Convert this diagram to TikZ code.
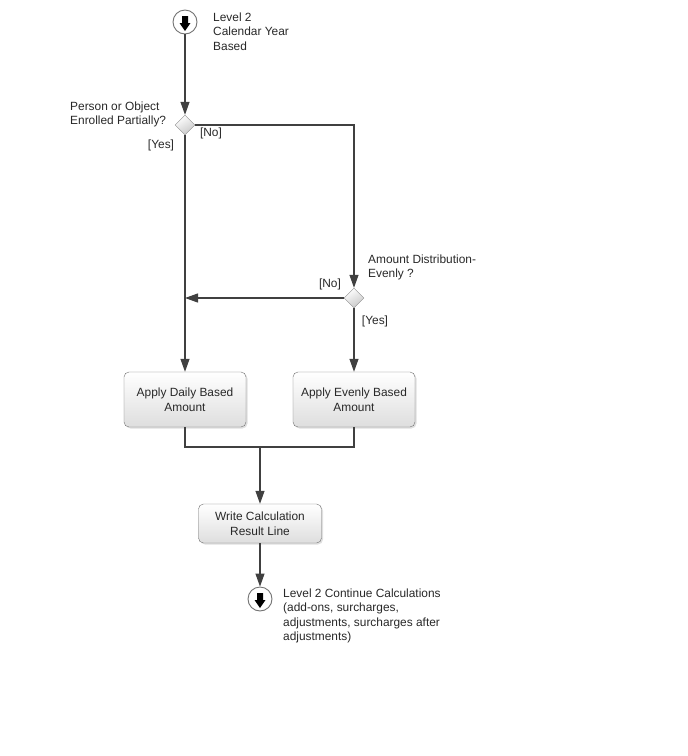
\documentclass[tikz,border=0pt]{standalone}
\usepackage{fontspec}
\setmainfont{Liberation Sans}
\usetikzlibrary{shapes.geometric, arrows.meta, shadows}
\definecolor{linegray}{RGB}{64,64,64}
\definecolor{boxgray}{RGB}{112,112,112}
\definecolor{textgray}{RGB}{40,40,40}
\tikzset{
	action/.style={
		draw=boxgray,
		rounded corners=5pt,
		top color=white,
		bottom color=black!13,
		drop shadow={opacity=0.25, shadow xshift=1.5pt, shadow yshift=-1.5pt},
		align=center,
		text=textgray
	},
	decision/.style={
		diamond,
		draw=black!45,
		inner sep=0pt,
		minimum width=20pt,
		minimum height=20pt,
		top color=white,
		bottom color=black!22,
		shading angle=30
	},
	flowend/.style={
		circle,
		draw=black!55,
		line width=0.9pt,
		fill=white,
		inner sep=0pt,
		minimum size=24pt
	},
	note/.style={
		inner sep=0pt,
		text=textgray
	}
}
% black down arrow drawn inside a start/end circle
\newcommand{\downicon}[1]{%
	\fill[black] ([shift={(-3,-6)}]#1.center) -- ([shift={(3,-6)}]#1.center)
		-- ([shift={(3,1)}]#1.center) -- ([shift={(5.5,1)}]#1.center)
		-- ([shift={(0,9)}]#1.center) -- ([shift={(-5.5,1)}]#1.center)
		-- ([shift={(-3,1)}]#1.center) -- cycle;}

\begin{document}
\begin{tikzpicture}[x=1pt, y=-1pt, font=\fontsize{11.9}{14.5}\selectfont]
	\tikzset{edge/.style={-{Triangle[length=13pt,width=9pt]}, draw=linegray, line width=1.2pt}}
	\tikzset{wire/.style={draw=linegray, line width=1.2pt}}
	\useasboundingbox (0,0) rectangle (688,756);
	
	\node(start) at (185,22) [flowend] {};
	\downicon{start}
	\node(start_txt) at (213,12.5) [note, anchor=north west, align=left] {Level 2\\Calendar Year\\Based};
	
	\node(dec_partial) at (185,125) [decision] {};
	\node(dec_partial_txt) at (70,101.5) [note, anchor=north west, align=left] {Person or Object\\Enrolled Partially?};
	\node(partial_no) at (211,133) [note] {[No]};
	\node(partial_yes) at (161,145) [note] {[Yes]};
	
	\node(dec_even) at (354,298) [decision] {};
	\node(dec_even_txt) at (368,254.5) [note, anchor=north west, align=left] {Amount Distribution-\\Evenly ?};
	\node(even_no) at (330,284) [note] {[No]};
	\node(even_yes) at (375,321) [note] {[Yes]};
	
	\node(act_daily) at (185,399.5) [action, minimum width=122pt, minimum height=55pt] {Apply Daily Based\\Amount};
	\node(act_even) at (354,399.5) [action, minimum width=122pt, minimum height=55pt] {Apply Evenly Based\\Amount};
	\node(act_write) at (260,523.5) [action, minimum width=123pt, minimum height=39pt] {Write Calculation\\Result Line};
	
	\node(stop) at (260,599) [flowend] {};
	\downicon{stop}
	\node(stop_txt) at (283,588.5) [note, anchor=north west, align=left] {Level 2 Continue Calculations\\(add-ons, surcharges,\\adjustments, surcharges after\\adjustments)};
	
	\coordinate(join) at (185,298);
	\coordinate(merge) at (260,447);
	
	\draw[edge] (start) -- (dec_partial);
	\draw[edge] (dec_partial.east) -| (dec_even.north);
	\draw[edge] (dec_partial.south) -- (act_daily.north);
	\draw[edge] (dec_even.west) -- (join);
	\draw[edge] (dec_even.south) -- (act_even.north);
	
	\draw[wire] (act_daily.south) |- (merge);
	\draw[wire] (act_even.south) |- (merge);
	\draw[edge] (merge) -- (act_write.north);
	\draw[edge] (act_write.south) -- (stop);
	
\end{tikzpicture}
\end{document}
